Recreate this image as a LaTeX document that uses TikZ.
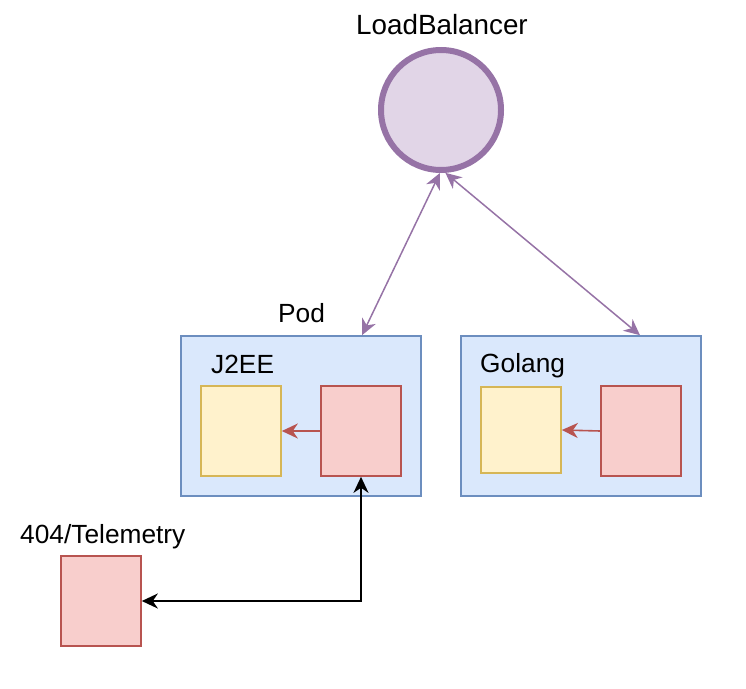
\documentclass[tikz,border=0pt]{standalone}
\usepackage{fontspec}
\setmainfont{Liberation Sans}
\usepackage{tikz}
\usetikzlibrary{positioning,arrows.meta}
\definecolor{lbfill}{HTML}{E1D5E7}
\definecolor{lbline}{HTML}{9673A6}
\definecolor{podfill}{HTML}{DAE8FC}
\definecolor{podline}{HTML}{6C8EBF}
\definecolor{appfill}{HTML}{FFF2CC}
\definecolor{appline}{HTML}{D6B656}
\definecolor{sidefill}{HTML}{F8CECC}
\definecolor{sideline}{HTML}{B85450}

\begin{document}
\begin{tikzpicture}[x=1pt,y=-1pt,
    >={Stealth[length=16pt,width=15pt,inset=5pt]},
    lbcircle/.style={circle,draw=lbline,fill=lbfill,line width=6pt,minimum size=120pt,inner sep=0pt},
    podbox/.style={rectangle,draw=podline,fill=podfill,line width=1.6pt,minimum width=240pt,minimum height=160pt,inner sep=0pt},
    appbox/.style={rectangle,draw=appline,fill=appfill,line width=1.6pt,minimum width=80pt,minimum height=90pt,inner sep=0pt},
    sidebox/.style={rectangle,draw=sideline,fill=sidefill,line width=1.6pt,minimum width=80pt,minimum height=90pt,inner sep=0pt},
    txt/.style={anchor=base west,inner sep=0pt,font=\fontsize{26.3}{32}\selectfont},
    lbarrow/.style={draw=lbline,line width=1.5pt,<->},
    sidearrow/.style={draw=sideline,line width=1.6pt,->},
    telearrow/.style={draw=black,line width=1.8pt,<->}]
    \useasboundingbox (0,0) rectangle (746,688);
    % load balancer
    \node[lbcircle] (lb) at (441,110) {};
    \node[txt,font=\fontsize{27.8}{32}\selectfont] (lbname) at (356,34) {LoadBalancer};
    % pods
    \node[podbox] (j2ee) at (301,416) {};
    \node[podbox] (golang) at (581,416) {};
    \node[txt] (podname) at (278,322) {Pod};
    \node[txt] (j2eename) at (211,373) {J2EE};
    \node[txt] (golangname) at (480,372) {Golang};
    \node[appbox] (j2eeapp) at (241,431) {};
    \node[sidebox] (j2eeside) at (361,431) {};
    \node[appbox,minimum height=86pt] (golangapp) at (521,430) {};
    \node[sidebox] (golangside) at (641,431) {};
    % telemetry
    \node[sidebox] (telemetry) at (101,601) {};
    \node[txt] (telename) at (20,543) {404/Telemetry};
    % connectors
    \draw[lbarrow] (lb.-91) -- ([xshift=61pt]j2ee.north);
    \draw[lbarrow] (lb.-86) -- ([xshift=59pt]golang.north);
    \draw[sidearrow] (j2eeside.west) -- (j2eeapp.east);
    \draw[sidearrow] (golangside.west) -- (golangapp.east);
    \draw[telearrow] (j2eeside.south) |- (telemetry.east);
\end{tikzpicture}
\end{document}
